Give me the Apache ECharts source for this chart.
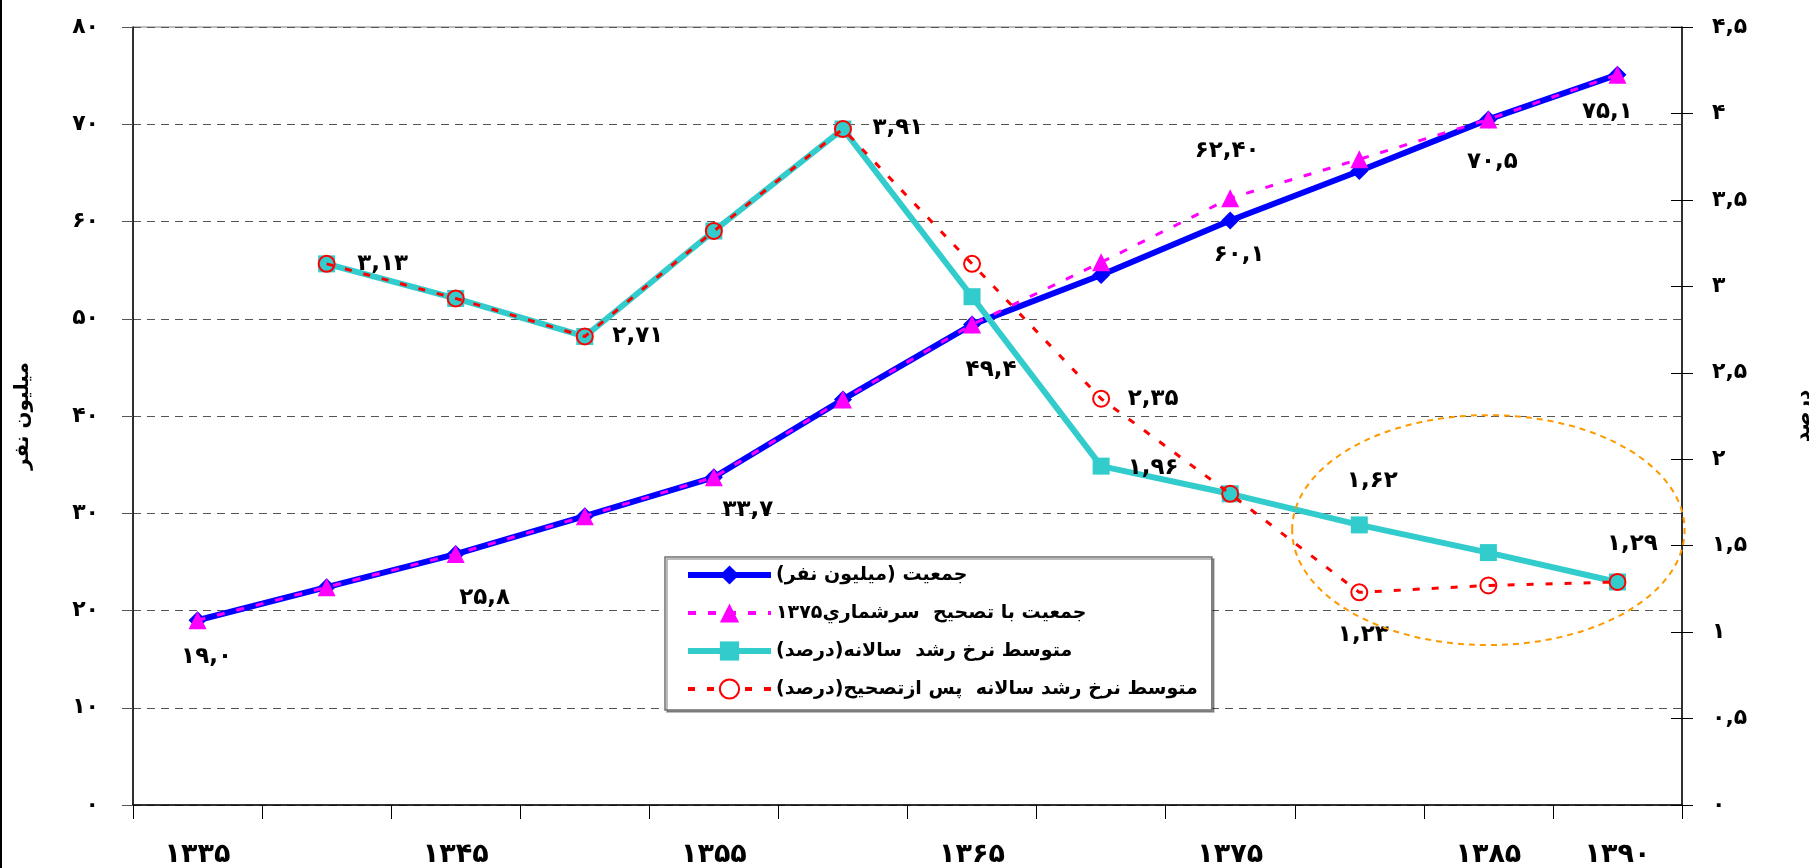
<!DOCTYPE html>
<html>
<head>
<meta charset="utf-8">
<script src="https://cdn.jsdelivr.net/npm/echarts@6/dist/echarts.min.js"></script>
<style>
html,body{margin:0;padding:0;background:#fff;}
#c{width:1809px;height:868px;}
</style>
</head>
<body>
<div id="c" dir="rtl"></div>
<script>
// ---------- DATA ----------
const years = ['1335','1340','1345','1350','1355','1360','1365','1370','1375','1380','1385','1390'];
const yearLabels = ['۱۳۳۵','۱۳۴۰','۱۳۴۵','۱۳۵۰','۱۳۵۵','۱۳۶۰','۱۳۶۵','۱۳۷۰','۱۳۷۵','۱۳۸۰','۱۳۸۵','۱۳۹۰'];
const population          = [19.0, 22.4, 25.8, 29.7, 33.7, 41.7, 49.4, 54.5, 60.1, 65.2, 70.5, 75.1];
const populationCorrected = [19.0, 22.4, 25.8, 29.7, 33.7, 41.7, 49.4, 55.8, 62.4, 66.4, 70.5, 75.1];
const growthRate          = [null, 3.13, 2.93, 2.71, 3.32, 3.91, 2.94, 1.96, 1.80, 1.62, 1.46, 1.29];
const growthRateCorrected = [null, 3.13, 2.93, 2.71, 3.32, 3.91, 3.13, 2.35, 1.80, 1.23, 1.27, 1.29];
const seriesNames = [
  'جمعیت (میلیون نفر)',
  'جمعیت با تصحیح  سرشماري۱۳۷۵',
  'متوسط نرخ رشد  سالانه(درصد)',
  'متوسط نرخ رشد سالانه  پس ازتصحیح(درصد)'
];
const leftAxisName = 'میلیون نفر';
const rightAxisName = 'درصد';
// which points carry a value label (index -> decimals)
const popLabelIdx = {0:1, 2:1, 4:1, 6:1, 8:1, 10:1, 11:1};
const popCorrLabelIdx = {8:2};
const rateLabelIdx = {1:2, 3:2, 5:2, 7:2, 9:2, 11:2};
const rateCorrLabelIdx = {7:2, 9:2};
// highlighted region (category index, right-axis value) and its half extents
const highlightCenter = [9.88, 1.59];
const highlightRadius = [1.52, 0.665];

// ---------- HELPERS ----------
const FA = '۰۱۲۳۴۵۶۷۸۹';
function toFa(s){ return String(s).replace(/[0-9]/g, d => FA[+d]).replace('.', ','); }
const FONT = 'DejaVu Sans';

// label placement (pixel offsets from the point)
const popLabelOffset = {0:[9,37], 2:[29,44], 4:[34,33], 6:[19,45], 8:[9,35], 10:[4,43], 11:[-10,37]};
const popCorrLabelOffset = {8:[-3,-47]};
const rateLabelOffset = {1:[56,0], 3:[53,0], 5:[55,-1], 7:[52,2], 9:[13,-44], 11:[15,-38]};
const rateCorrLabelOffset = {7:[52,0], 9:[4,43]};

function build(values, idxMap, offMap){
  return values.map((v, i) => {
    if (v === null) return null;
    if (idxMap[i] === undefined) return v;
    const dec = idxMap[i];
    return {
      value: v,
      label: {
        show: true, position: 'inside', offset: offMap[i],
        formatter: () => toFa(v.toFixed(dec)),
        fontFamily: FONT, fontSize: 23, fontWeight: 'bold', color: '#000'
      }
    };
  });
}

const chart = echarts.init(document.getElementById('c'), null, {renderer: 'canvas'});

const option = {
  animation: false,
  backgroundColor: '#fff',
  textStyle: {fontFamily: FONT},
  grid: {left: 133, right: 127, top: 27, bottom: 63, outerBoundsMode: 'none', containLabel: false,
         show: true, borderColor: '#808080', borderWidth: 1, backgroundColor: 'transparent'},
  legend: {
    orient: 'vertical', left: 665, top: 557,
    padding: [7, 14, 10, 20],
    itemWidth: 83, itemHeight: 24, itemGap: 16,
    backgroundColor: '#fff', borderColor: '#707070', borderWidth: 1.5,
    shadowColor: 'rgba(0,0,0,0.35)', shadowOffsetX: 2, shadowOffsetY: 2, shadowBlur: 0,
    textStyle: {fontFamily: FONT, fontSize: 19, fontWeight: 'bold', color: '#000', lineHeight: 22},
    data: [
      {name: seriesNames[0], lineStyle: {width: 6}},
      {name: seriesNames[1], lineStyle: {width: 4}},
      {name: seriesNames[2], lineStyle: {width: 6}},
      {name: seriesNames[3], lineStyle: {width: 4}, itemStyle: {color: '#fff', borderColor: '#FF0000', borderWidth: 2}}
    ]
  },
  xAxis: {
    type: 'category', data: yearLabels, boundaryGap: true,
    axisLine: {lineStyle: {color: '#000', width: 1.5}},
    axisTick: {show: true, interval: 0, length: 14, lineStyle: {color: '#000'}},
    axisLabel: {
      interval: (i) => i % 2 === 0 || i === yearLabels.length - 1,
      fontFamily: FONT, fontSize: 27, fontWeight: 'bold', color: '#000', margin: 36
    },
    splitLine: {show: false}
  },
  yAxis: [
    {
      type: 'value', position: 'left', min: 0, max: 80, interval: 10,
      name: leftAxisName, nameLocation: 'middle', nameGap: 100,
      nameTextStyle: {fontFamily: FONT, fontSize: 20, fontWeight: 'bold', color: '#000'},
      axisLine: {show: true, lineStyle: {color: '#000', width: 1.5}},
      axisTick: {show: true, length: 11, lineStyle: {color: '#555'}},
      axisLabel: {formatter: v => toFa(v), fontFamily: FONT, fontSize: 22, fontWeight: 'bold', color: '#000', margin: 34},
      splitLine: {show: true, lineStyle: {color: '#555', type: [8, 6], width: 1}}
    },
    {
      type: 'value', position: 'right', min: 0, max: 4.5, interval: 0.5,
      name: rightAxisName, nameLocation: 'middle', nameGap: 112,
      nameTextStyle: {fontFamily: FONT, fontSize: 20, fontWeight: 'bold', color: '#000'},
      axisLine: {show: true, lineStyle: {color: '#000', width: 1.5}},
      axisTick: {show: true, length: 11, lineStyle: {color: '#000'}},
      axisLabel: {formatter: v => toFa(v), fontFamily: FONT, fontSize: 22, fontWeight: 'bold', color: '#000', margin: 30},
      splitLine: {show: false}
    },
    {
      type: 'value', position: 'right', min: 0, max: 4.5, interval: 0.5,
      axisLine: {show: false},
      axisTick: {show: true, inside: true, length: 11, lineStyle: {color: '#000'}},
      axisLabel: {show: false},
      splitLine: {show: false}
    }
  ],
  series: [
    {
      name: seriesNames[0], type: 'line', yAxisIndex: 0, z: 3,
      data: build(population, popLabelIdx, popLabelOffset),
      symbol: 'diamond', symbolSize: 18, showAllSymbol: true,
      lineStyle: {color: '#0000FF', width: 6},
      itemStyle: {color: '#0000FF'}
    },
    {
      name: seriesNames[1], type: 'line', yAxisIndex: 0, z: 4,
      data: build(populationCorrected, popCorrLabelIdx, popCorrLabelOffset),
      symbol: 'triangle', symbolSize: [18, 18], showAllSymbol: true,
      lineStyle: {color: '#FF00FF', width: 3, type: [8, 12]},
      itemStyle: {color: '#FF00FF'}
    },
    {
      name: seriesNames[2], type: 'line', yAxisIndex: 1, z: 5,
      data: build(growthRate, rateLabelIdx, rateLabelOffset),
      symbol: 'rect', symbolSize: 17, showAllSymbol: true,
      lineStyle: {color: '#33CCCC', width: 6},
      itemStyle: {color: '#33CCCC'}
    },
    {
      name: seriesNames[3], type: 'line', yAxisIndex: 1, z: 6,
      data: build(growthRateCorrected, rateCorrLabelIdx, rateCorrLabelOffset),
      symbol: 'circle', symbolSize: 16, showAllSymbol: true,
      lineStyle: {color: '#FF0000', width: 3, type: [7, 12]},
      itemStyle: {color: 'rgba(255,255,255,0)', borderColor: '#FF0000', borderWidth: 2}
    }
  ]
};
chart.setOption(option);

// highlight ellipse placed through the chart's own scales
const finder = {xAxisIndex: 0, yAxisIndex: 1};
const c = chart.convertToPixel(finder, highlightCenter);
const p0 = chart.convertToPixel(finder, [0, 0]);
const p1 = chart.convertToPixel(finder, [1, highlightRadius[1]]);
const rx = Math.abs(p1[0] - p0[0]) * highlightRadius[0];
const ry = Math.abs(p1[1] - p0[1]);
chart.setOption({
  graphic: [
    {type: 'ellipse', shape: {cx: c[0], cy: c[1], rx: rx, ry: ry}, silent: true, z: 100,
     style: {fill: 'none', stroke: '#FF9900', lineWidth: 2, lineDash: [6, 5]}},
    {type: 'rect', shape: {x: 0, y: 0, width: 2, height: 868}, silent: true, style: {fill: '#000'}}
  ]
});
</script>
</body>
</html>
